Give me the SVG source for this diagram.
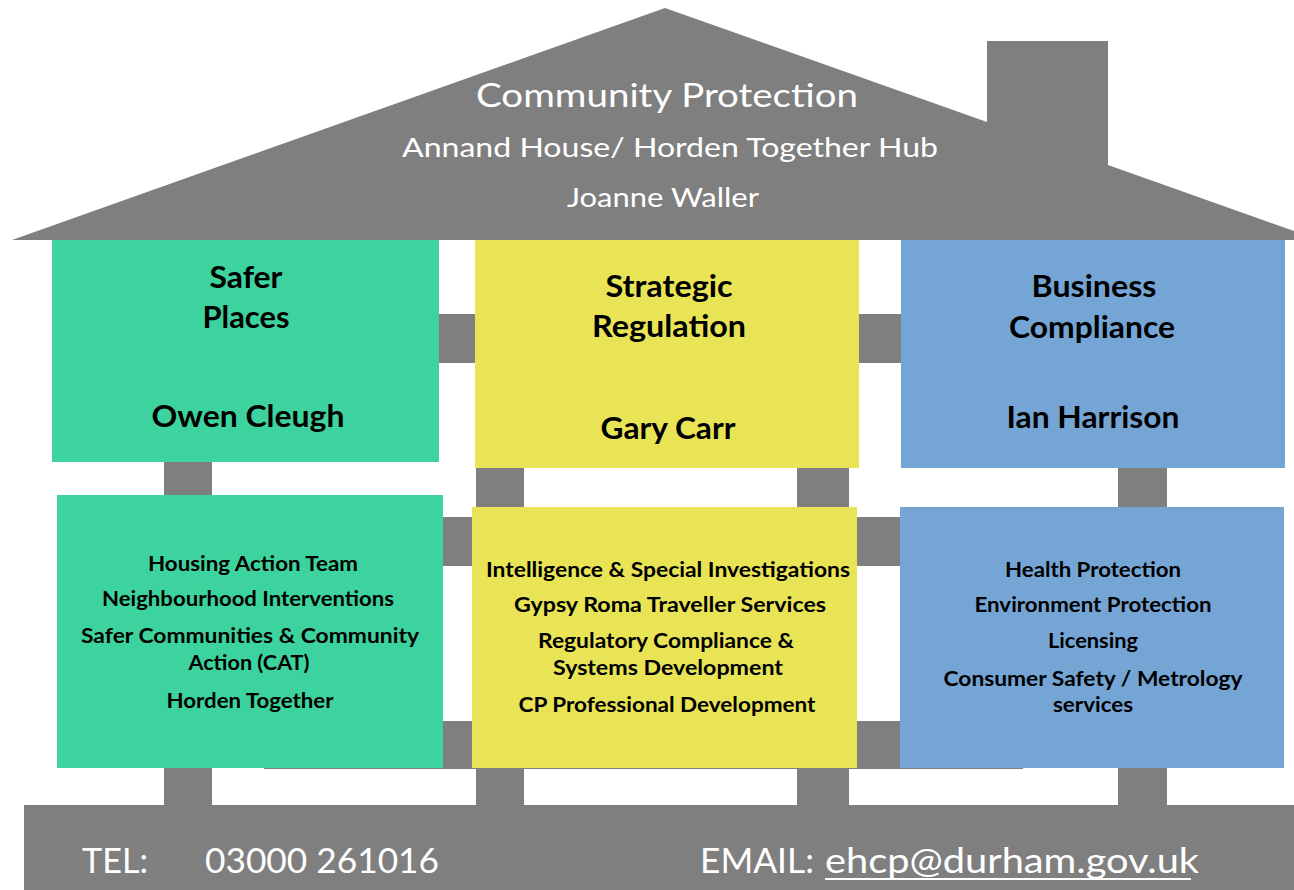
<svg xmlns="http://www.w3.org/2000/svg" width="1294" height="890" viewBox="0 0 1294 890">
<style>
.g{fill:#7f7f7f}
.grn{fill:#3dd39e}
.yel{fill:#e8e455}
.blu{fill:#75a5d4}
.w{font-family:Lato,"Open Sans","Liberation Sans",sans-serif;fill:#ffffff;text-anchor:middle}
.h{font-family:Lato,"Open Sans","Liberation Sans",sans-serif;font-weight:bold;fill:#000;text-anchor:middle;font-size:30px}
.s{font-family:Lato,"Open Sans","Liberation Sans",sans-serif;font-weight:bold;fill:#000;text-anchor:middle;font-size:21px}
.f{font-family:Lato,"Open Sans","Liberation Sans",sans-serif;fill:#ffffff;font-size:35px}
</style>
<rect width="1294" height="890" fill="#ffffff"/>
<g id="roof">
<polygon class="g" points="12,240 665,8 987,122 987,41 1108,41 1108,165 1294,231 1294,240"/>
<text class="w" x="667" y="107" font-size="32" textLength="382" lengthAdjust="spacingAndGlyphs">Community Protection</text>
<text class="w" x="670" y="157" font-size="26.5" textLength="536" lengthAdjust="spacingAndGlyphs">Annand House/ Horden Together Hub</text>
<text class="w" x="663" y="207" font-size="26.5" textLength="192" lengthAdjust="spacingAndGlyphs">Joanne Waller</text>
</g>
<g id="connectors">
<rect class="g" x="430" y="314" width="480" height="49"/>
<rect class="g" x="430" y="517" width="480" height="49"/>
<rect class="g" x="264" y="721" width="759" height="48"/>
<rect class="g" x="164" y="455" width="48" height="360"/>
<rect class="g" x="476" y="460" width="48" height="355"/>
<rect class="g" x="797" y="460" width="52" height="355"/>
<rect class="g" x="1118" y="460" width="49" height="355"/>
</g>
<g id="footer">
<rect class="g" x="24" y="805" width="1270" height="85"/>
<text class="f" x="82" y="873" textLength="66" lengthAdjust="spacingAndGlyphs">TEL:</text>
<text class="f" x="205" y="873" textLength="234" lengthAdjust="spacingAndGlyphs">03000 261016</text>
<text class="f" x="700" y="873" textLength="114" lengthAdjust="spacingAndGlyphs">EMAIL:</text>
<text class="f" x="825" y="873" textLength="374" lengthAdjust="spacingAndGlyphs">ehcp@durham.gov.uk</text>
<rect x="825" y="878" width="366" height="2" fill="#ffffff"/>
</g>
<g id="safer-places">
<rect class="grn" x="52" y="240" width="387" height="222"/>
<text class="h" x="246" y="288" textLength="73" lengthAdjust="spacingAndGlyphs">Safer</text>
<text class="h" x="246" y="328" textLength="87" lengthAdjust="spacingAndGlyphs">Places</text>
<text class="h" x="248" y="427" textLength="193" lengthAdjust="spacingAndGlyphs">Owen Cleugh</text>
</g>
<g id="strategic-regulation">
<rect class="yel" x="475" y="240" width="384" height="228"/>
<text class="h" x="669" y="297" textLength="127" lengthAdjust="spacingAndGlyphs">Strategic</text>
<text class="h" x="669" y="337" textLength="154" lengthAdjust="spacingAndGlyphs">Regulation</text>
<text class="h" x="668" y="439" textLength="135" lengthAdjust="spacingAndGlyphs">Gary Carr</text>
</g>
<g id="business-compliance">
<rect class="blu" x="901" y="240" width="384" height="228"/>
<text class="h" x="1094" y="297" textLength="125" lengthAdjust="spacingAndGlyphs">Business</text>
<text class="h" x="1092" y="338" textLength="166" lengthAdjust="spacingAndGlyphs">Compliance</text>
<text class="h" x="1093" y="428" textLength="173" lengthAdjust="spacingAndGlyphs">Ian Harrison</text>
</g>
<g id="safer-places-services">
<rect class="grn" x="57" y="495" width="386" height="273"/>
<text class="s" x="253" y="571" textLength="210" lengthAdjust="spacingAndGlyphs">Housing Action Team</text>
<text class="s" x="248" y="606" textLength="292" lengthAdjust="spacingAndGlyphs">Neighbourhood Interventions</text>
<text class="s" x="250" y="643" textLength="338" lengthAdjust="spacingAndGlyphs">Safer Communities &amp; Community</text>
<text class="s" x="249" y="670" textLength="121" lengthAdjust="spacingAndGlyphs">Action (CAT)</text>
<text class="s" x="250" y="708" textLength="167" lengthAdjust="spacingAndGlyphs">Horden Together</text>
</g>
<g id="strategic-regulation-services">
<rect class="yel" x="472" y="507" width="385" height="261"/>
<text class="s" x="668" y="577" textLength="364" lengthAdjust="spacingAndGlyphs">Intelligence &amp; Special Investigations</text>
<text class="s" x="670" y="612" textLength="312" lengthAdjust="spacingAndGlyphs">Gypsy Roma Traveller Services</text>
<text class="s" x="666" y="648" textLength="256" lengthAdjust="spacingAndGlyphs">Regulatory Compliance &amp;</text>
<text class="s" x="668" y="675" textLength="230" lengthAdjust="spacingAndGlyphs">Systems Development</text>
<text class="s" x="667" y="712" textLength="297" lengthAdjust="spacingAndGlyphs">CP Professional Development</text>
</g>
<g id="business-compliance-services">
<rect class="blu" x="900" y="507" width="384" height="261"/>
<text class="s" x="1093" y="577" textLength="176" lengthAdjust="spacingAndGlyphs">Health Protection</text>
<text class="s" x="1093" y="612" textLength="237" lengthAdjust="spacingAndGlyphs">Environment Protection</text>
<text class="s" x="1093" y="648" textLength="90" lengthAdjust="spacingAndGlyphs">Licensing</text>
<text class="s" x="1093" y="686" textLength="299" lengthAdjust="spacingAndGlyphs">Consumer Safety / Metrology</text>
<text class="s" x="1093" y="712" textLength="80" lengthAdjust="spacingAndGlyphs">services</text>
</g>
</svg>
